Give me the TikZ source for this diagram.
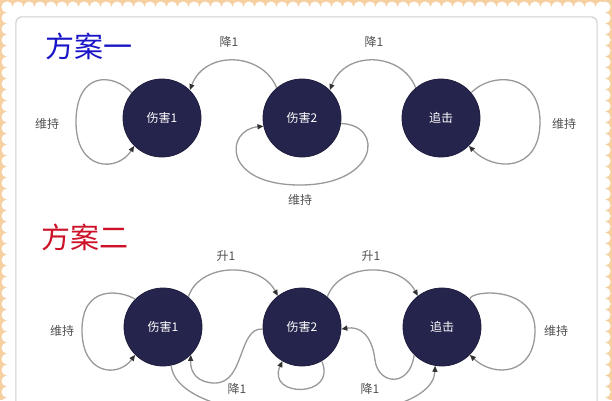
\documentclass[tikz,border=0pt]{standalone}
\usepackage{fontspec}
\setmainfont{Noto Sans CJK SC}
\newfontfamily\cjk{Noto Sans CJK SC}
\usetikzlibrary{arrows.meta}
\definecolor{peach}{HTML}{F6D0A0}
\definecolor{navy}{HTML}{25244C}
\definecolor{edgegray}{HTML}{999999}
\definecolor{lblgray}{HTML}{505050}
\definecolor{titleblue}{HTML}{1A16C8}
\definecolor{titlered}{HTML}{CC1128}
\tikzset{
  state/.style={circle, fill=navy, draw=navy!80!black, line width=0.8pt, minimum size=78pt, inner sep=0pt, text=white, font=\cjk\fontsize{12}{12}\selectfont},
  edge/.style={draw=edgegray, line width=1.3pt, -{Triangle[length=6pt,width=5pt,fill=black!80,color=black!80]}},
  lbl/.style={text=lblgray, font=\cjk\fontsize{12}{12}\selectfont},
  ttl/.style={font=\cjk\fontsize{29}{29}\selectfont, anchor=west}
}
\begin{document}
\begin{tikzpicture}[x=1pt,y=-1pt]
\useasboundingbox (0,0) rectangle (612,400);
\clip (0,0) rectangle (612,400);
% background with scalloped border
\fill[peach] (0,0) rectangle (612,400);
\fill[white] (7,7) rectangle (605,410);
\foreach \i in {0,...,54} {
  \fill[white] (7+\i*11,7) circle (5.5);
}
\foreach \j in {0,...,37} {
  \fill[white] (7,7+\j*11) circle (5.5);
  \fill[white] (605,7+\j*11) circle (5.5);
}
\draw[black!8, line width=2pt, rounded corners=6pt] (16,17) rectangle (597,420);
\draw[black!20, line width=0.8pt, rounded corners=6pt, fill=white] (16,17) rectangle (597,420);

% ---------- scheme 1 ----------
\node[ttl, text=titleblue] (t1) at (42,46) {方案一};
\node[state] (a1) at (162,118) {伤害1};
\node[state] (a2) at (302,118) {伤害2};
\node[state] (a3) at (441,118) {追击};

\draw[edge] (a2.130) .. controls (262,52) and (205,50) .. (a1.45);
\draw[edge] (a3.130) .. controls (402,52) and (345,50) .. (a2.45);
\node[lbl] (l1) at (229,42) {降1};
\node[lbl] (l2) at (374,42) {降1};

\draw[edge] (a1.140) .. controls (112,72) and (76,72) .. (76,122)
            .. controls (76,172) and (118,172) .. (a1.225);
\node[lbl] (l3) at (47,124) {维持};
\draw[edge] (a3.40) .. controls (491,72) and (540,72) .. (540,122)
            .. controls (540,172) and (494,172) .. (a3.-45);
\node[lbl] (l4) at (564,124) {维持};

\draw[edge] (a2.-8) .. controls (385,125) and (378,185) .. (300,185)
            .. controls (222,185) and (225,130) .. (a2.192);
\node[lbl] (l5) at (300,200) {维持};

% ---------- scheme 2 ----------
\node[ttl, text=titlered] (t2) at (38,237) {方案二};
\node[state] (b1) at (163,327) {伤害1};
\node[state] (b2) at (302,327) {伤害2};
\node[state] (b3) at (442,327) {追击};

\draw[edge] (b1.50) .. controls (200,262) and (260,262) .. (b2.128);
\draw[edge] (b2.50) .. controls (340,262) and (400,262) .. (b3.128);
\node[lbl] (u1) at (226,256) {升1};
\node[lbl] (u2) at (371,256) {升1};

\draw[edge] (b1.135) .. controls (120,290) and (82,285) .. (82,330)
            .. controls (82,375) and (118,378) .. (b1.225);
\node[lbl] (m1) at (62,331) {维持};
\draw[edge] (b3.45) .. controls (470,290) and (535,285) .. (535,330)
            .. controls (535,375) and (494,378) .. (b3.-45);
\node[lbl] (m2) at (556,331) {维持};

\draw[edge] (b2.183) .. controls (238,327) and (245,383) .. (215,383)
            .. controls (198,383) and (190,373) .. (b1.-45);
\draw[edge] (b3.-135) .. controls (410,388) and (378,385) .. (375,360)
            .. controls (372,335) and (360,326) .. (b2.-3);
\node[lbl] (d1) at (237,389) {降1};
\node[lbl] (d2) at (370,389) {降1};

\draw[edge] (b2.-60) .. controls (338,398) and (266,398) .. (b2.240);
\draw[edge] (b1.-78) .. controls (178,432) and (432,432) .. (b3.-100);
\end{tikzpicture}
\end{document}
